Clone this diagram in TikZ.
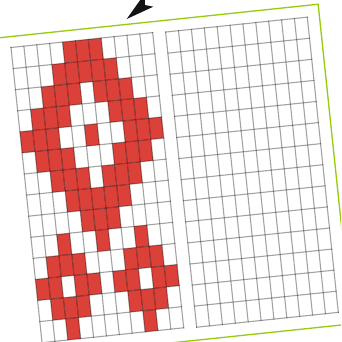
\documentclass[tikz,border=0pt]{standalone}
\definecolor{cellred}{RGB}{220,65,57}
\definecolor{framegreen}{RGB}{150,204,10}
\begin{document}
\begin{tikzpicture}[x=1pt,y=1pt,
  gridline/.style={line width=1.1pt, draw=black, draw opacity=0.36, line cap=rect},
  cell/.style={fill=cellred},
  pageframe/.style={draw=framegreen, line width=1.3pt, fill=white},
  arrowtip/.style={fill=black!92}]
\useasboundingbox (0,-342) rectangle (341,0);
\clip (0,-342) rectangle (341,0);
\fill[white] (0,-342) rectangle (341,0);
\begin{scope}[shift={(11,-47.5)}, rotate=6]
  \draw[pageframe] (-60,10.9) rectangle (310,-310.5);
  % red cells of the left grid
  \foreach \r/\cl in {0/{4,5,6},1/{3,4,5,6,7},2/{2,3,4,6,7,8},3/{1,2,3,7,8,9},
      4/{0,1,2,5,8,9,10},5/{1,2,3,7,8,9},6/{2,3,4,6,7,8},7/{3,4,5,6,7},
      8/{4,5,6},9/{2,5,8},10/{1,2,3,7,8,9},11/{0,1,3,4,6,7,9,10},
      12/{1,2,3,7,8,9},13/{2,8}}{
    \foreach \c in \cl {
      \fill[cell] ({\c*12.95},{-\r*21.2}) rectangle ++(12.95,-21.2);
    }
  }
  % the two grids
  \foreach \ox/\oy in {0/0,155.4/-0.8}{
    \begin{scope}[xshift=\ox pt, yshift=\oy pt]
      \foreach \i in {0,...,11}
        \draw[gridline] ({\i*12.95},0) -- ({\i*12.95},-296.8);
      \foreach \j in {0,...,14}
        \draw[gridline] (0,{-\j*21.2}) -- (142.45,{-\j*21.2});
    \end{scope}
  }
\end{scope}
% arrowhead at the top
\coordinate (tip) at (126.7,-19);
\coordinate (wingA) at (144.5,6);
\coordinate (notch) at (145,-5);
\coordinate (wingB) at (153.3,-6.7);
\fill[arrowtip] (tip) -- (wingA) -- (notch) -- (wingB) -- cycle;
\end{tikzpicture}
\end{document}
